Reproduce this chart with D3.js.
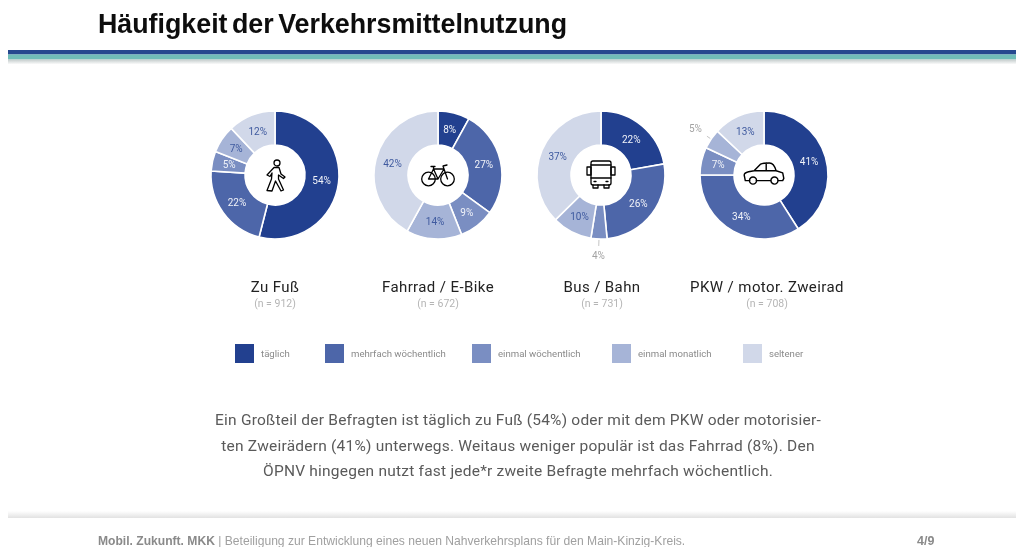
<!DOCTYPE html>
<html><head><meta charset="utf-8">
<script src="https://cdn.jsdelivr.net/npm/d3@7"></script>
<style>html,body{margin:0;padding:0;background:#fff;overflow:hidden}svg{display:block}text{font-family:Roboto,sans-serif}</style>
</head><body><svg id="c" width="1016" height="547"></svg>
<script>
const titleText = "Häufigkeit der Verkehrsmittelnutzung";
const categories = ["Zu Fuß","Fahrrad / E-Bike","Bus / Bahn","PKW / motor. Zweirad"];
const sampleSizes = ["(n = 912)","(n = 672)","(n = 731)","(n = 708)"];
const frequencies = ["täglich","mehrfach wöchentlich","einmal wöchentlich","einmal monatlich","seltener"];
const colours = ["#22408f","#4e66a9","#7a8ec2","#a6b4d7","#d1d8e9"];
const zuFuss = [54,22,5,7,12];
const fahrrad = [8,27,9,14,42];
const bus = [22,26,4,10,37];
const pkw = [41,34,7,5,13];
const seriesValues = [zuFuss,fahrrad,bus,pkw];
const bodyLines = [
 "Ein Großteil der Befragten ist täglich zu Fuß (54%) oder mit dem PKW oder motorisier-",
 "ten Zweirädern (41%) unterwegs. Weitaus weniger populär ist das Fahrrad (8%). Den",
 "ÖPNV hingegen nutzt fast jede*r zweite Befragte mehrfach wöchentlich."];
const footerBold = "Mobil. Zukunft. MKK";
const footerRest = " | Beteiligung zur Entwicklung eines neuen Nahverkehrsplans für den Main-Kinzig-Kreis.";
const pageNo = "4/9";

const svg = d3.select("#c");
const defs = svg.append("defs");
const blur = defs.append("filter").attr("id","soft").attr("filterUnits","userSpaceOnUse")
  .attr("x",0).attr("y",0).attr("width",1016).attr("height",547);
blur.append("feGaussianBlur").attr("stdDeviation",0.45);
const gH = defs.append("linearGradient").attr("id","shadeDown").attr("x1",0).attr("x2",0).attr("y1",0).attr("y2",1);
gH.append("stop").attr("offset",0).attr("stop-color","#c4cccc");
gH.append("stop").attr("offset",1).attr("stop-color","#fff");
const gF = defs.append("linearGradient").attr("id","shadeUp").attr("x1",0).attr("x2",0).attr("y1",0).attr("y2",1);
gF.append("stop").attr("offset",0).attr("stop-color","#fff");
gF.append("stop").attr("offset",1).attr("stop-color","#e2e2e2");

function iconWalk(g){
  g.append("circle").attr("cx",2).attr("cy",-12).attr("r",3);
  g.append("path").attr("d","M-1,-7.5 L4,-7.5 L6,-1 L10,2 L8.5,3.5 L3.5,0 L3.5,4 L8.5,15 L6,16 L0.5,6 L-3,16 L-8,15.5 L-3.5,4 L-3,-2 L-5,1.5 L-8,0 Z");
}
function iconBike(g){
  g.append("circle").attr("cx",-9.5).attr("cy",4).attr("r",6.8);
  g.append("circle").attr("cx",9.5).attr("cy",4).attr("r",6.8);
  g.append("path").attr("d","M-9.5,4 L-4.5,-6 L6,-6 L9.5,4 M-4.5,-6 L0,4 L6,-6 M-9.5,4 L0,4 M-7,-8.5 L-3,-8.5 M-4.5,-8.5 L-4.5,-6 M6,-6 L5,-9 L9,-10");
}
function iconBus(g){
  g.append("rect").attr("x",-10).attr("y",-14).attr("width",20).attr("height",24).attr("rx",2);
  g.append("path").attr("d","M-10,-10 H10 M-10,3 H10 M-14,-8 H-10 V0 H-14 Z M10,-8 H14 V0 H10 Z M-8,10 V13 H-3 V10 M3,10 V13 H8 V10");
  g.append("path").attr("d","M-7,6.5 H-5 M5,6.5 H7");
}
function iconCar(g){
  g.attr("transform","translate(0,-1) scale(1.1)");
  g.append("path").attr("d","M-17,6 L-18,1 Q-18,-1 -14,-2 L-9,-3 L-3,-9 Q-1,-10 5,-10 Q9,-10 11,-3 L17,-1 L18,4 L17,6 H13 M6,6 H-7 M-13,6 H-17 M-9,-3 H11 M2,-10 V-3");
  g.append("circle").attr("cx",-10).attr("cy",6).attr("r",3.2);
  g.append("circle").attr("cx",9.5).attr("cy",6).attr("r",3.2);
}
const icons = [iconWalk,iconBike,iconBus,iconCar];

const root = svg.append("g").attr("filter","url(#soft)");

// header
root.append("text").attr("x",98).attr("y",33).attr("textLength",469).attr("lengthAdjust","spacingAndGlyphs")
  .style("font-family","'Liberation Sans'").style("font-weight",700).style("font-size","27px").style("word-spacing","-3px").attr("fill","#0a0a0a").text(titleText);
root.append("rect").attr("x",8).attr("y",50).attr("width",1008).attr("height",4.5).attr("fill","#254a8f");
root.append("rect").attr("x",8).attr("y",54.5).attr("width",1008).attr("height",5).attr("fill","#6fbdb8");
root.append("rect").attr("x",8).attr("y",59.5).attr("width",1008).attr("height",5).attr("fill","url(#shadeDown)");

// donuts
const centres = d3.scalePoint().domain(categories).range([275,764]);
const titleX = [275,438,602,767];
const pie = d3.pie().sort(null).value(d=>d);
const R = 64, r0 = 30;
const arc = d3.arc().innerRadius(r0).outerRadius(R);
const outside = {"2-2":true,"3-3":true};

categories.forEach((cat,ci)=>{
  const g = root.append("g").attr("transform",`translate(${centres(cat)},175)`);
  const arcs = pie(seriesValues[ci]);
  g.selectAll("path.s").data(arcs).join("path").attr("class","s").attr("d",arc)
    .attr("fill",(d,i)=>colours[i]).attr("stroke","#fff").attr("stroke-width",1.6);
  g.selectAll("text.v").data(arcs).join("text").attr("class","v")
    .each(function(d,i){
      const key=ci+"-"+i, el=d3.select(this);
      const mid=(d.startAngle+d.endAngle)/2;
      const rr=outside[key]?(ci===2?81:83):47;
      el.attr("x",Math.sin(mid)*rr).attr("y",-Math.cos(mid)*rr+3.5)
        .attr("fill",outside[key]?"#a3a3a3":(i<3?"#f0f2f8":"#3f5a9f"));
      if(outside[key]){
        const e=R+(ci===2?7:5);
        g.append("line").attr("x1",Math.sin(mid)*(R+1)).attr("y1",-Math.cos(mid)*(R+1))
          .attr("x2",Math.sin(mid)*e).attr("y2",-Math.cos(mid)*e)
          .attr("stroke","#b5b5b5").attr("stroke-width",.8);
      }
    })
    .attr("text-anchor","middle").style("font-size","10px").text(d=>d.data+"%");
  g.append("circle").attr("r",r0).attr("fill","#fff");
  const ic = g.append("g").attr("fill","none").attr("stroke","#000").attr("stroke-width",1.3)
    .attr("stroke-linejoin","round").attr("stroke-linecap","round");
  icons[ci](ic);
  root.append("text").attr("x",titleX[ci]).attr("y",292).attr("text-anchor","middle")
    .style("font-size","15px").style("letter-spacing",".4px").attr("fill","#222").text(cat);
  root.append("text").attr("x",titleX[ci]).attr("y",307).attr("text-anchor","middle")
    .style("font-size","10.5px").attr("fill","#b5b5b5").text(sampleSizes[ci]);
});

// legend
const legendX = [235,325,472,612,743];
const leg = root.selectAll("g.leg").data(frequencies).join("g").attr("class","leg")
  .attr("transform",(d,i)=>`translate(${legendX[i]},344)`);
leg.append("rect").attr("width",19).attr("height",19).attr("fill",(d,i)=>colours[i]);
leg.append("text").attr("x",26).attr("y",12.5).style("font-size","9.6px").attr("fill","#8a8a8a").text(d=>d);

// body
root.selectAll("text.b").data(bodyLines).join("text").attr("class","b")
  .attr("x",518).attr("y",(d,i)=>425+i*25.7).attr("text-anchor","middle")
  .style("font-size","15.5px").style("letter-spacing",".22px").attr("fill","#5a5a5a").text(d=>d);

// footer
root.append("rect").attr("x",8).attr("y",511).attr("width",1008).attr("height",7).attr("fill","url(#shadeUp)");
const ft = root.append("text").attr("x",98).attr("y",545).style("font-family","'Liberation Sans'").style("font-size","12.1px").attr("fill","#a0a0a0");
ft.append("tspan").style("font-weight",700).attr("fill","#8a8a8a").text(footerBold);
ft.append("tspan").text(footerRest);
root.append("text").attr("x",917).attr("y",545).style("font-family","'Liberation Sans'").style("font-weight",700).style("font-size","12.5px").attr("fill","#8a8a8a").text(pageNo);
</script>
</body></html>
